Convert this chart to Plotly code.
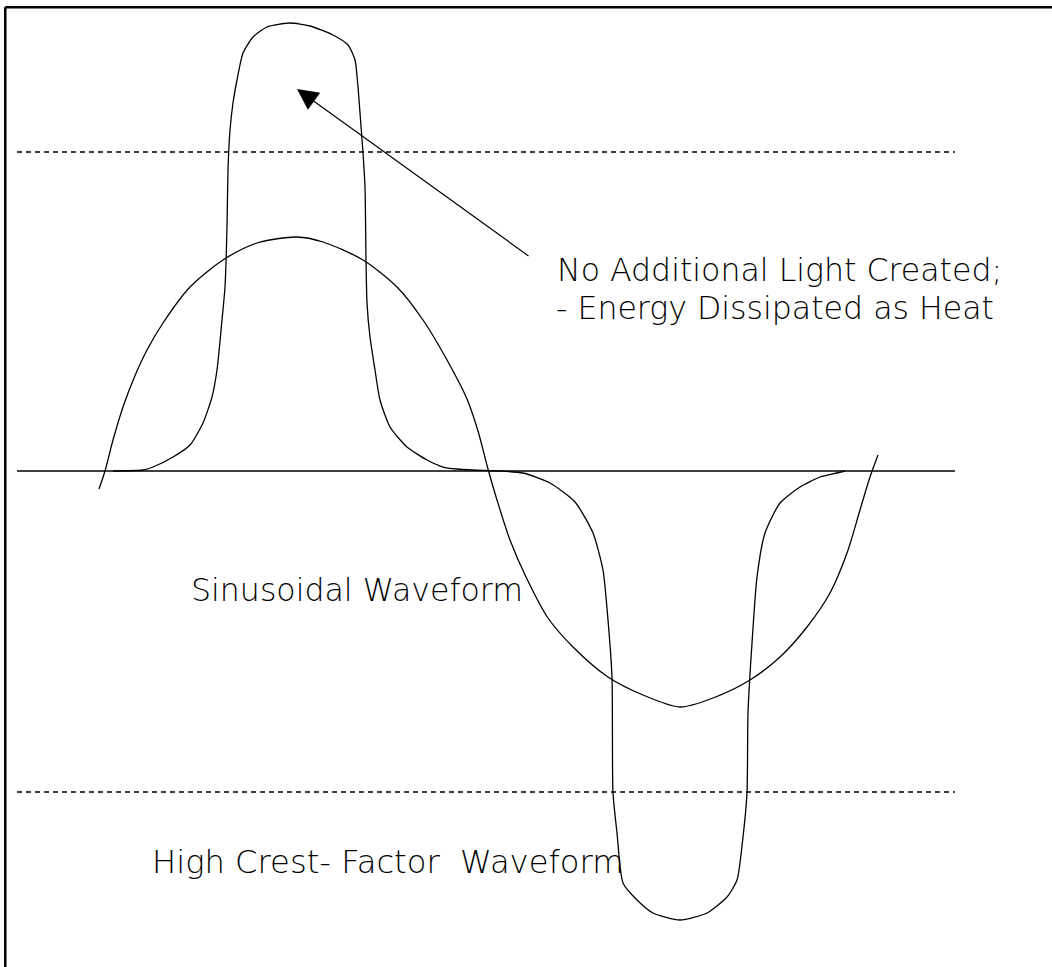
import plotly.graph_objects as go

# ---- data (time axis in drawing units, amplitude relative to the zero line) ----
sine_x = [99, 105, 113, 123, 134, 147, 163, 190, 223, 257, 297, 323, 363, 397, 423, 447,
          467, 478, 488, 497, 510, 526, 548, 573, 608, 643, 680, 713, 750, 780, 807,
          830, 847, 860, 870, 878]
sine_y = [-18, 0, 31, 64, 93, 121, 148, 184, 211, 228, 234, 229, 211, 184, 151, 111,
          72, 40, 2, -29, -69, -106, -147, -176, -206, -224, -236, -227, -209, -186, -156,
          -122, -82, -39, -6, 16]

crest_x = [113, 143, 153, 173, 190, 203, 212, 217, 222, 225, 227, 228, 230, 233, 237,
           243, 253, 267, 290, 310, 333, 348, 355, 358, 360, 363, 365, 366, 367, 370,
           375, 380, 390, 407, 427, 443, 457, 473, 500, 523, 550, 575, 593, 603, 608,
           612, 613, 617, 623, 637, 653, 680, 707, 727, 737, 743, 747, 748, 752, 757,
           765, 780, 800, 820, 837, 845]
crest_y = [0, 1, 4, 14, 26, 48, 74, 101, 151, 184, 244, 301, 341, 368, 391,
           418, 434, 444, 448, 445, 436, 426, 411, 384, 358, 318, 284, 211, 168, 134,
           101, 71, 44, 24, 11, 4, 2, 1, 0, -2, -12, -31, -62, -99, -149,
           -206, -322, -362, -412, -429, -442, -449, -442, -426, -409, -366, -322, -242, -172, -106,
           -62, -32, -16, -6, -2, 0]

zero_line_x = [17, 955]
threshold_levels = [319, -321]

label_light_1 = "No Additional Light Created;"
label_light_2 = "- Energy Dissipated as Heat"
label_sine = "Sinusoidal Waveform"
label_crest = "High Crest- Factor\u00a0 Waveform"

arrow_tip = (297, 382)
arrow_tail = (530, 214)

FONT = dict(family="DejaVu Sans", size=31.6, color="black", weight=200)
FONT_CREST = dict(family="DejaVu Sans", size=32.2, color="black", weight=200)

fig = go.Figure()

fig.add_trace(go.Scatter(x=zero_line_x, y=[0, 0], mode="lines",
                         line=dict(color="black", width=1.6), hoverinfo="skip"))
for lvl in threshold_levels:
    fig.add_trace(go.Scatter(x=zero_line_x, y=[lvl, lvl], mode="lines",
                             line=dict(color="black", width=1.3, dash="5px,4px"),
                             hoverinfo="skip"))
fig.add_trace(go.Scatter(x=sine_x, y=sine_y, mode="lines",
                         line=dict(color="black", width=1.3, shape="spline", smoothing=0.8)))
fig.add_trace(go.Scatter(x=crest_x, y=crest_y, mode="lines",
                         line=dict(color="black", width=1.3, shape="spline", smoothing=0.6)))

# frame (top and left edges only)
fig.add_shape(type="line", xref="paper", yref="paper", x0=0.005, x1=1, y0=0.9925, y1=0.9925,
              line=dict(color="black", width=2.5))
fig.add_shape(type="line", xref="paper", yref="paper", x0=0.005, x1=0.005, y0=0, y1=0.9925,
              line=dict(color="black", width=2.5))

fig.add_annotation(x=arrow_tip[0], y=arrow_tip[1], ax=arrow_tail[0], ay=arrow_tail[1],
                   xref="x", yref="y", axref="x", ayref="y", text="",
                   showarrow=True, arrowhead=2, arrowsize=3.5, arrowwidth=1.2,
                   arrowcolor="black")

fig.add_annotation(x=555, y=201, text=label_light_1, showarrow=False,
                   xanchor="left", yanchor="middle", font=FONT)
fig.add_annotation(x=554, y=163, text=label_light_2, showarrow=False,
                   xanchor="left", yanchor="middle", font=FONT)
fig.add_annotation(x=189, y=-119, text=label_sine, showarrow=False,
                   xanchor="left", yanchor="middle", font=FONT)
fig.add_annotation(x=150, y=-391, text=label_crest, showarrow=False,
                   xanchor="left", yanchor="middle", font=FONT_CREST)

fig.update_layout(
    width=1052, height=967,
    margin=dict(l=0, r=0, t=0, b=0),
    paper_bgcolor="white", plot_bgcolor="white",
    showlegend=False,
    xaxis=dict(range=[0, 1052], visible=False, fixedrange=True),
    yaxis=dict(range=[-496, 471], visible=False, fixedrange=True),
)

fig.write_html("out.html", config={"displayModeBar": False},
               post_script="document.body.style.margin='0px';document.body.style.overflow='hidden';")
